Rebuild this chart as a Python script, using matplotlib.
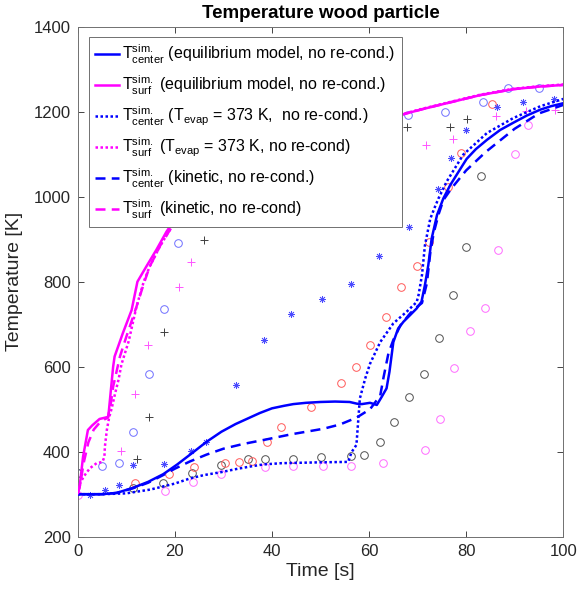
import matplotlib
matplotlib.use("Agg")
import matplotlib.pyplot as plt

plt.rcParams['font.family'] = ['Liberation Sans', 'DejaVu Sans']
plt.rcParams['mathtext.fontset'] = 'custom'
plt.rcParams['mathtext.rm'] = 'Liberation Sans'
plt.rcParams['mathtext.it'] = 'Liberation Sans'

# ---- simulation lines ----
t_center_eq = [0, 5, 8, 11.4, 14.5, 17.6, 20.5, 23.7, 26.5, 29.6, 32.5, 35, 37.5, 40, 42.5, 44.4, 47, 50, 53, 56,
               57.5, 58.5, 60.2, 61.6, 62.6, 63.6, 64.2, 65, 66, 67.1, 68.5, 69.8, 70.8, 71.5, 72.2, 72.9, 74, 75.3,
               76.7, 78.5, 80.1, 82, 84.3, 87, 89.7, 92.5, 95.3, 97.5, 100]
T_center_eq = [300, 300, 303, 315, 329, 347, 370, 398, 423, 447, 465, 478, 491, 502, 508, 512, 515, 517, 518, 517,
               513, 512, 515, 510, 529, 549, 588, 658, 690, 706, 722, 737, 753, 792, 839, 902, 957, 996,
               1027, 1060, 1089, 1112, 1134, 1157, 1174, 1191, 1205, 1213, 1220]

t_surf_eq = [0, 0.4, 1.1, 2.1, 3.0, 3.9, 4.5, 5.6, 6.3, 6.9, 7.3, 7.6, 9.3, 11.1, 12.3, 14.2, 16.2, 18.3, 22, 27, 33,
             40, 48, 56, 62, 66.4, 71, 76, 82.9, 89.7, 95, 100]
T_surf_eq = [300, 318, 388, 451, 462, 471, 477, 480, 482, 553, 600, 624, 679, 733, 800, 837, 875, 918, 980, 1040, 1090,
             1130, 1160, 1178, 1186, 1192, 1206, 1220, 1239, 1253, 1259, 1263]

t_center_evap = [0, 5, 10, 15, 20, 23.1, 26, 29.6, 33, 36, 38.2, 42, 46, 50, 55.7, 56.4, 57.4, 57.8, 58.1, 59.2, 60.2,
                 62.3, 65, 67.8, 69.8, 70.2, 70.9, 71.5, 72.6, 73.6, 74.3, 76, 79.4, 84.3, 89.7, 95.3, 100]
T_center_evap = [300, 300, 302, 311, 325, 337, 345, 352, 360, 366, 370, 373, 374, 375, 376, 399, 416, 478, 525, 572, 607,
                 658, 702, 730, 752, 769, 816, 885, 948, 977, 996, 1036, 1099, 1150, 1185, 1213, 1230]

t_surf_evap = [0, 0.5, 1.2, 2.5, 3.9, 5.1, 5.5, 5.6, 6.0, 6.5, 7.0, 7.7, 8.4, 9.0, 10.5, 12.1, 13.6, 14.8, 17, 19, 22,
               27, 33, 40, 48, 56, 62, 66.4, 71, 76, 82.9, 89.7, 95, 100]
T_surf_evap = [300, 325, 341, 361, 373, 376, 388, 412, 451, 482, 502, 537, 569, 605, 660, 741, 800, 835, 885, 922, 975,
               1035, 1086, 1127, 1158, 1177, 1186, 1193, 1207, 1221, 1240, 1254, 1260, 1264]

t_center_kin = [0, 5, 8, 11.4, 14.5, 17.6, 20, 23.1, 26.5, 30, 34, 38.9, 44, 50.6, 54, 57.4, 60.2, 62.3, 63, 64, 65,
                66.5, 68.5, 70, 70.9, 71.9, 72.6, 73.3, 74.3, 75.3, 77, 80, 84, 90, 95, 100]
T_center_kin = [300, 300, 303, 314, 327, 345, 360, 377, 393, 407, 418, 429, 441, 454, 464, 480, 500, 532, 576, 632, 663,
                698, 726, 742, 750, 796, 867, 914, 958, 992, 1020, 1062, 1105, 1160, 1196, 1216]

t_surf_kin = [0, 0.5, 1.2, 2.2, 3.3, 4.5, 5.5, 6.2, 6.8, 7.3, 8.7, 10, 12.1, 13.6, 14.8, 17, 19, 22, 27, 33, 40, 48,
              56, 62, 66.4, 71, 76, 82.9, 89.7, 95, 100]
T_surf_kin = [300, 322, 372, 422, 452, 468, 476, 480, 512, 553, 624, 670, 741, 795, 835, 885, 922, 975, 1035, 1086,
              1127, 1158, 1177, 1186, 1192, 1206, 1220, 1239, 1253, 1259, 1263]

# ---- measured points ----
t_circ_blue = [0, 5.1, 8.5, 11.4, 14.6, 17.7, 20.7, 68, 75.6, 83.5, 88.7, 95]
T_circ_blue = [351, 366, 374, 446, 584, 735, 892, 1192, 1200, 1224, 1255, 1255]

t_circ_black = [0, 11.4, 17.6, 23.6, 29.6, 35, 38.5, 44.4, 50.2, 56.3, 59, 62.3, 65.1, 68.3, 71.3, 74.4, 77.2, 80,
                83.1]
T_circ_black = [351, 314, 327, 349, 369, 382, 383, 384, 388, 389, 392, 423, 470, 529, 584, 668, 769, 881, 1048]

t_circ_red = [11.8, 18.8, 24, 30.3, 33.2, 35.9, 38.9, 41.8, 48.1, 54.2, 57.4, 60.2, 63.4, 66.5, 69.9, 72.4, 76.3,
              78.9, 85.4]
T_circ_red = [326, 347, 365, 373, 375, 378, 422, 459, 506, 562, 600, 652, 716, 788, 838, 893, 1024, 1102, 1219]

t_circ_mag = [0, 17.9, 23.8, 29.6, 38.6, 44.4, 50.6, 56.3, 62.9, 71.6, 74.6, 77.5, 80.8, 83.8, 86.6, 90, 92.7]
T_circ_mag = [299, 308, 328, 347, 365, 366, 366, 366, 374, 403, 476, 596, 683, 739, 874, 1100, 1168]

t_plus_black = [12.3, 14.7, 17.8, 26, 67.8, 76.7, 80.1]
T_plus_black = [383, 481, 681, 897, 1163, 1165, 1184]

t_plus_mag = [9.0, 11.9, 14.5, 20.8, 23.4, 71.8, 77.3, 86.1, 92.3, 98.3]
T_plus_mag = [402, 536, 651, 788, 846, 1122, 1135, 1189, 1202, 1204]

t_ast_blue = [2.6, 5.7, 8.5, 11.4, 17.7, 23.4, 26.4, 32.5, 38.4, 43.9, 50.4, 56.2, 62.1, 68.3, 74.1, 76.9, 79.9,
              86.3, 91.8, 98]
T_ast_blue = [298, 310, 322, 368, 372, 402, 424, 557, 662, 723, 759, 794, 860, 928, 1018, 1090, 1157, 1210, 1224,
              1229]

labels = [
    r'$\mathregular{T^{sim.}_{center}}$ (equilibrium model, no re-cond.)',
    r'$\mathregular{T^{sim.}_{surf}}$ (equilibrium model, no re-cond.)',
    r'$\mathregular{T^{sim.}_{center}}$ ($\mathregular{T_{evap}}$ = 373 K,  no re-cond.)',
    r'$\mathregular{T^{sim.}_{surf}}$ ($\mathregular{T_{evap}}$ = 373 K, no re-cond)',
    r'$\mathregular{T^{sim.}_{center}}$ (kinetic, no re-cond.)',
    r'$\mathregular{T^{sim.}_{surf}}$ (kinetic, no re-cond)',
]

fig = plt.figure(figsize=(5.78, 5.96), dpi=100)
ax = fig.add_axes([77.7 / 578, 1 - 536.7 / 596, (563.3 - 77.7) / 578, (536.7 - 26.7) / 596])

ms = 5.5
mew = 0.7
ax.plot(t_circ_blue, T_circ_blue, 'o', mfc='none', mec='#6f6fff', ms=ms, mew=mew, zorder=2)
ax.plot(t_circ_black, T_circ_black, 'o', mfc='none', mec='#505050', ms=ms, mew=mew, zorder=2)
ax.plot(t_circ_red, T_circ_red, 'o', mfc='none', mec='#ff5a5a', ms=ms, mew=mew, zorder=2)
ax.plot(t_circ_mag, T_circ_mag, 'o', mfc='none', mec='#ff6bff', ms=ms, mew=mew, zorder=2)
ax.plot(t_plus_black, T_plus_black, '+', color='#404040', ms=6, mew=mew, zorder=2)
ax.plot(t_plus_mag, T_plus_mag, '+', color='#ff55ff', ms=6, mew=mew, zorder=2)
ax.plot(t_ast_blue, T_ast_blue, marker=(8, 2, 0), ls='none', color='#4a4aff', ms=5, mew=0.55, zorder=2)

lw = 1.8
h1, = ax.plot(t_center_eq, T_center_eq, color='#0000ff', lw=lw, zorder=3)
h2, = ax.plot(t_surf_eq, T_surf_eq, color='#ff00ff', lw=lw, zorder=3)
h3, = ax.plot(t_center_evap, T_center_evap, color='#0000ff', lw=lw, ls=(0, (1, 1)), zorder=3)
h4, = ax.plot(t_surf_evap, T_surf_evap, color='#ff00ff', lw=lw, ls=(0, (1, 1)), zorder=3)
h5, = ax.plot(t_center_kin, T_center_kin, color='#0000ff', lw=lw, ls=(0, (4, 2.5)), zorder=3)
h6, = ax.plot(t_surf_kin, T_surf_kin, color='#ff00ff', lw=lw, ls=(0, (4, 2.5)), zorder=3)

ax.set_xlim(0, 100)
ax.set_ylim(200, 1400)
ax.set_xticks([0, 20, 40, 60, 80, 100])
ax.set_yticks([200, 400, 600, 800, 1000, 1200, 1400])
ax.tick_params(direction='in', top=True, right=True, length=4, width=0.6, colors='#262626',
               labelsize=12, pad=5)
for s in ax.spines.values():
    s.set_color('#707070')
    s.set_linewidth(0.7)

ax.set_xlabel('Time [s]', fontsize=14, color='#262626', labelpad=3)
ax.set_ylabel('Temperature [K]', fontsize=14, color='#262626', labelpad=8)
ax.set_title('Temperature wood particle', fontsize=13.5, fontweight='bold', color='black', pad=6)

leg = ax.legend([h1, h2, h3, h4, h5, h6], labels, loc='upper left', bbox_to_anchor=(0.023, 0.98),
                borderaxespad=0, fontsize=11.5, frameon=True, fancybox=False, framealpha=1,
                edgecolor='#707070', handlelength=1.5, handletextpad=0.2, labelspacing=0.48,
                borderpad=0.4)
leg.get_frame().set_linewidth(0.7)
leg.set_zorder(5)

fig.savefig('out.png', dpi=100)
